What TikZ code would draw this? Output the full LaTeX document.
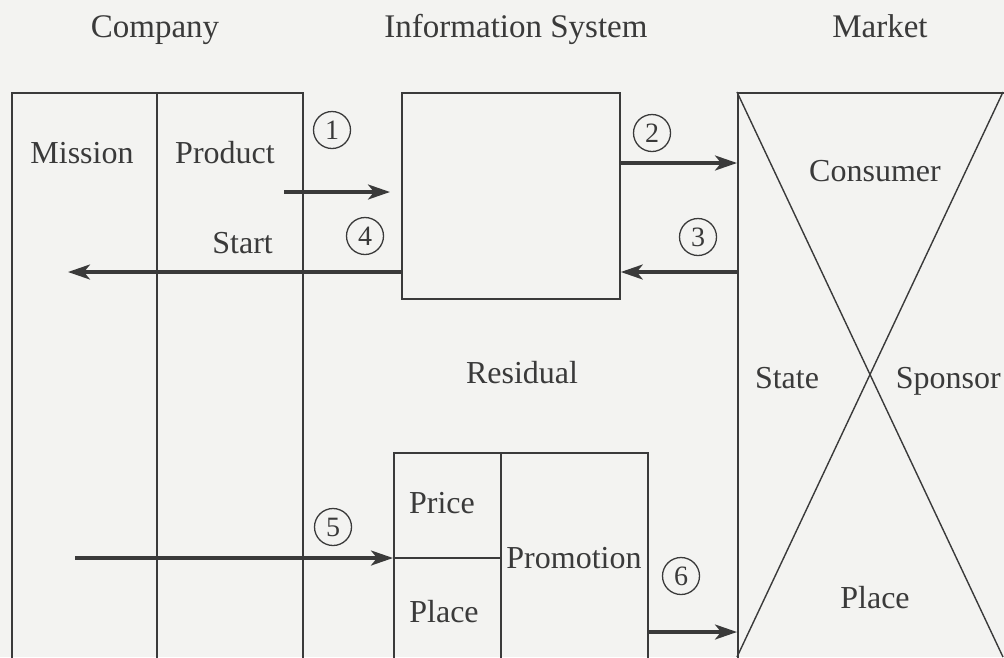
\documentclass[tikz,border=0pt]{standalone}
\usepackage{fontspec}
\setmainfont{Liberation Serif}
\usetikzlibrary{arrows.meta,calc}
\definecolor{ink}{HTML}{3A3A3A}
\definecolor{paper}{HTML}{F3F3F1}
\begin{document}
\begin{tikzpicture}[x=1pt,y=-1pt,
  frame/.style={draw=ink, line width=1.8pt},
  flow/.style={draw=ink, line width=3.2pt, -{Stealth[length=22pt,width=15pt,inset=6pt]}},
  lbl/.style={text=ink, font=\fontsize{32}{38}\selectfont, inner sep=0pt, anchor=base},
  head/.style={text=ink, font=\fontsize{33}{38}\selectfont, inner sep=0pt, anchor=base},
  num/.style={circle, draw=ink, line width=1.3pt, minimum size=37pt, inner sep=0pt, text=ink, font=\fontsize{28}{30}\selectfont},
  boxnode/.style={frame, rectangle, inner sep=0pt}]
\useasboundingbox (0,0) rectangle (1004,657);
\fill[paper] (0,0) rectangle (1004,657);
\clip (0,0) rectangle (1004,657);

% headings
\node[head] (hcomp) at (155,37) {Company};
\node[head] (hinfo) at (516,37) {Information System};
\node[head] (hmark) at (880,37) {Market};

% company block
\node[boxnode, minimum width=291pt, minimum height=620pt, anchor=north west] (comp) at (11,92) {};
\coordinate (cdivtop) at (157,92);
\draw[frame] (cdivtop) -- (157,720);
\node[lbl] (mission) at (82,163) {Mission};
\node[lbl] (product) at (225,163) {Product};
\node[lbl, anchor=base east] (start) at (273,253) {Start};

% information system
\node[boxnode, minimum width=218pt, minimum height=206pt, anchor=north west] (info) at (401,92) {};

% market
\node[boxnode, minimum width=280pt, minimum height=620pt, anchor=north west] (market) at (737,92) {};
\coordinate (mtl) at (737,92);
\coordinate (mtr) at (1003,92);
\coordinate (mbl) at (737,657);
\coordinate (mbr) at (1003,657);
\draw[frame, line width=1.4pt] (mtl) -- (mbr);
\draw[frame, line width=1.4pt] (mtr) -- (mbl);
\node[lbl] (consumer) at (875,181) {Consumer};
\node[lbl] (state) at (787,388) {State};
\node[lbl, anchor=base east] (sponsor) at (1001,388) {Sponsor};
\node[lbl] (mplace) at (875,608) {Place};

\node[lbl] (residual) at (522,383) {Residual};

% marketing mix
\node[boxnode, minimum width=254pt, minimum height=300pt, anchor=north west] (mix) at (393,452) {};
\coordinate (mixdiv) at (501,452);
\draw[frame] (mixdiv) -- (501,760);
\coordinate (mixmidL) at (393,558);
\draw[frame] (mixmidL) -- (501,558);
\node[lbl] (price) at (442,513) {Price};
\node[lbl] (place) at (444,622) {Place};
\node[lbl] (promo) at (574,568) {Promotion};

% flows
\coordinate (s1) at (284,192);
\draw[flow] (s1) -- ([xshift=-11pt]info.west |- s1);
\coordinate (s2) at (info.east |- 0,163);
\draw[flow] (s2) -- (market.west |- s2);
\coordinate (s3) at (market.west |- 0,272);
\draw[flow] (s3) -- (info.east |- s3);
\coordinate (s4) at (info.west |- 0,272);
\coordinate (e4) at (68,272);
\draw[flow] (s4) -- (e4);
\coordinate (s5) at (75,558);
\draw[flow] (s5) -- (mix.west |- s5);
\coordinate (s6) at (mix.east |- 0,632);
\draw[flow] (s6) -- (market.west |- s6);

% step numbers
\node[num] (n1) at (332,130) {1};
\node[num] (n2) at (652,133) {2};
\node[num] (n3) at (698,237) {3};
\node[num] (n4) at (365,236) {4};
\node[num] (n5) at (333,527) {5};
\node[num] (n6) at (681,576) {6};
\end{tikzpicture}
\end{document}
